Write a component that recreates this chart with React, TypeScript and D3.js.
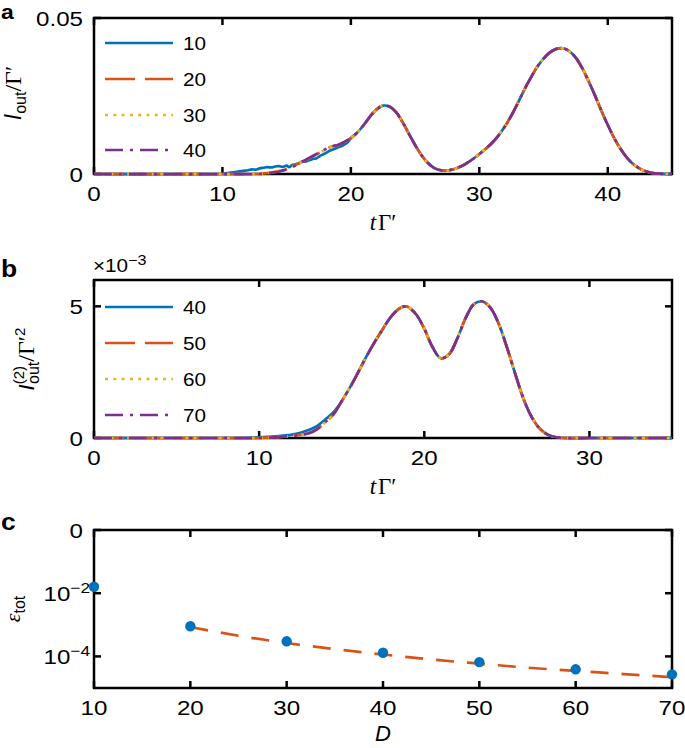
import React from 'react';
import * as d3 from 'd3';

const W = 685;
const H = 748;
const SX = 1.15;
const SANS = '"Liberation Sans", Arial, Helvetica, sans-serif';
const SERIF = '"Liberation Serif", "Times New Roman", serif';
const COLORS = ['#0072BD', '#D95319', '#EDB120', '#7E2F8E'];
const DASHES = ['none', '30 10', '3 5.3', '18 7 3 7'];

// ---------- Panel a data ----------
const aLabels = ['10', '20', '30', '40'];
const aLate: [number, number][] = [
  [19, 0.0093], [19.5, 0.0103], [20, 0.0115], [20.5, 0.0133], [21, 0.0157], [21.5, 0.0185],
  [22, 0.0207], [22.5, 0.0219], [23, 0.0216], [23.5, 0.0199], [24, 0.0168], [24.5, 0.013],
  [25, 0.0093], [25.5, 0.006], [26, 0.0035], [26.5, 0.0019], [27, 0.0012], [27.5, 0.0011],
  [28, 0.0015], [28.5, 0.0023], [29, 0.0034], [29.5, 0.0048], [30, 0.0064], [30.5, 0.0081],
  [31, 0.01], [31.5, 0.0124], [32, 0.0153], [32.5, 0.0188], [33, 0.0228], [33.5, 0.027],
  [34, 0.0308], [34.5, 0.0343], [35, 0.037], [35.5, 0.039], [36, 0.0401], [36.5, 0.0403],
  [37, 0.0394], [37.5, 0.0373], [38, 0.034], [38.5, 0.0298], [39, 0.0252], [39.5, 0.0203],
  [40, 0.0157], [40.5, 0.0115], [41, 0.008], [41.5, 0.0052], [42, 0.0031], [42.5, 0.0017],
  [43, 0.0008], [43.5, 0.0003], [44, 0.0001], [44.5, 0], [45, 0],
];
const aEarly10: [number, number][] = [
  [0, 0], [9.6, 0], [10, 0.0001], [10.4, 0.0003], [10.8, 0.0005], [11.2, 0.0008], [11.6, 0.001],
  [12, 0.0012], [12.3, 0.0015], [12.6, 0.0014], [12.9, 0.0018], [13.2, 0.002], [13.5, 0.0022],
  [13.8, 0.0021], [14.1, 0.0024], [14.4, 0.0025], [14.7, 0.0023], [15, 0.0027], [15.2, 0.0022],
  [15.4, 0.0028], [15.7, 0.0031], [16, 0.0035], [16.2, 0.004], [16.5, 0.004], [16.8, 0.0045],
  [17.1, 0.0049], [17.3, 0.005], [17.6, 0.0058], [17.9, 0.0064], [18.2, 0.0071], [18.4, 0.0075],
  [18.7, 0.008], [19, 0.0086], [19.3, 0.009], [19.6, 0.0097], [19.8, 0.0104],
];
const aEarly20: [number, number][] = [
  [0, 0], [12.5, 0], [13, 0.0001], [13.5, 0.0003], [14, 0.0006], [14.5, 0.001], [15, 0.0016],
  [15.5, 0.0025], [16, 0.0035], [16.5, 0.0045], [17, 0.0056], [17.5, 0.0067], [18, 0.0078], [18.5, 0.0088],
];
const aEarly30: [number, number][] = [
  [0, 0], [12.7, 0], [13, 0.00008], [13.5, 0.00028], [14, 0.0006], [14.5, 0.001], [15, 0.0016],
  [15.5, 0.0025], [16, 0.0035], [16.5, 0.0045], [17, 0.0056], [17.5, 0.0067], [18, 0.0078], [18.5, 0.0088],
];
const aEarly40: [number, number][] = [
  [0, 0], [12.8, 0], [13.2, 0.0001], [13.6, 0.0003], [14, 0.0005], [14.5, 0.0009], [15, 0.0015],
  [15.5, 0.0024], [16, 0.0035], [16.5, 0.0046], [17, 0.0057], [17.5, 0.0068], [18, 0.0079], [18.5, 0.0089],
];
const aD10 = [...aEarly10, ...aLate.filter((d) => d[0] >= 20)];
const aD20 = [...aEarly20, ...aLate];
const aD30 = [...aEarly30, ...aLate];
const aD40 = [...aEarly40, ...aLate];
const aSeries = [aD10, aD20, aD30, aD40];
const aXTicks = [0, 10, 20, 30, 40];
const aYTicks = [0, 0.05];
const aYTickLabels = ['0', '0.05'];

// ---------- Panel b data ----------
const bLabels = ['40', '50', '60', '70'];
const bLate: [number, number][] = [
  [15, 0.0014], [15.5, 0.00192], [16, 0.0025], [16.5, 0.0031], [17, 0.00365], [17.5, 0.00415],
  [18, 0.00462], [18.5, 0.00492], [18.8, 0.005], [19, 0.00498], [19.5, 0.0047], [20, 0.00415],
  [20.5, 0.00345], [21, 0.00303], [21.5, 0.00318], [22, 0.00378], [22.5, 0.00455], [23, 0.00508],
  [23.5, 0.00519], [24, 0.00495], [24.5, 0.00435], [25, 0.00345], [25.5, 0.00245], [26, 0.0015],
  [26.5, 0.0008], [27, 0.00035], [27.5, 0.00012], [28, 0.00003], [28.5, 0], [30, 0], [35, 0],
];
const bEarly40: [number, number][] = [
  [0, 0], [8, 0], [9, 0], [10, 0.00002], [11, 0.00006], [12, 0.00013], [12.5, 0.0002], [13, 0.0003],
  [13.5, 0.00045], [14, 0.0007], [14.5, 0.00098],
];
const bEarlyRest: [number, number][] = [
  [0, 0], [9, 0], [10, 0], [11, 0.00003], [12, 0.00008], [12.5, 0.00012], [13, 0.00018], [13.5, 0.00033],
  [14, 0.0006], [14.5, 0.0009],
];
const bD40 = [...bEarly40, ...bLate];
const bD50 = [...bEarlyRest, ...bLate];
const bD60 = [...bEarlyRest, ...bLate];
const bD70 = [...bEarlyRest, ...bLate];
const bSeries = [bD40, bD50, bD60, bD70];
const bXTicks = [0, 10, 20, 30];
const bYTicks = [0, 0.005];
const bYTickLabels = ['0', '5'];

// ---------- Panel c data ----------
const cD = [10, 20, 30, 40, 50, 60, 70];
const cEps = [1.6e-2, 9e-4, 3.0e-4, 1.3e-4, 6.6e-5, 3.9e-5, 2.7e-5];
const cFitD = [20, 25, 30, 35, 40, 45, 50, 55, 60, 65, 70];
const cFitEps = [8.5e-4, 4.5e-4, 2.65e-4, 1.7e-4, 1.15e-4, 8.0e-5, 5.9e-5, 4.4e-5, 3.5e-5, 2.75e-5, 2.2e-5];
const cXTicks = [10, 20, 30, 40, 50, 60, 70];
const cYTicks = [1, 1e-2, 1e-4];
const cYTickBase = ['0', '10', '10'];
const cYTickExp = ['', '\u22122', '\u22124'];

// ---------- layout ----------
const L = 94;
const R = 672;
const TICK = 7;
const FS = 21;

function ST({ x, y, anchor = 'middle', size = FS, children, weight = 'normal' }: any) {
  return (
    <g transform={`translate(${x},${y}) scale(${SX},1)`}>
      <text textAnchor={anchor} fontSize={size} fontFamily={SANS} fontWeight={weight} fill="#000">
        {children}
      </text>
    </g>
  );
}

function Frame({ x, y, top, bottom, xTicks, yTicks }: any) {
  return (
    <g>
      <rect x={L} y={top} width={R - L} height={bottom - top} fill="none" stroke="#000" strokeWidth={2.5} />
      {xTicks.map((t: number, i: number) => (
        <g key={'x' + i}>
          <line x1={x(t)} x2={x(t)} y1={bottom} y2={bottom - TICK} stroke="#000" strokeWidth={2.5} />
          <line x1={x(t)} x2={x(t)} y1={top} y2={top + TICK} stroke="#000" strokeWidth={2.5} />
        </g>
      ))}
      {yTicks.map((t: number, i: number) => (
        <g key={'y' + i}>
          <line x1={L} x2={L + TICK} y1={y(t)} y2={y(t)} stroke="#000" strokeWidth={2.5} />
          <line x1={R} x2={R - TICK} y1={y(t)} y2={y(t)} stroke="#000" strokeWidth={2.5} />
        </g>
      ))}
    </g>
  );
}

function Curves({ x, y, series }: any) {
  const line = d3
    .line<[number, number]>()
    .x((d) => x(d[0]))
    .y((d) => y(Math.max(0, d[1])))
    .curve(d3.curveCatmullRom.alpha(0.5));
  return (
    <g>
      {series.map((s: [number, number][], i: number) => (
        <path
          key={i}
          d={line(s) || ''}
          fill="none"
          stroke={COLORS[i]}
          strokeWidth={2.7}
          strokeDasharray={DASHES[i]}
        />
      ))}
    </g>
  );
}

function Legend({ labels, rows }: any) {
  return (
    <g>
      {labels.map((lab: string, i: number) => (
        <g key={i}>
          <line x1={105} x2={173} y1={rows[i]} y2={rows[i]} stroke={COLORS[i]} strokeWidth={2.7} strokeDasharray={DASHES[i]} />
          <ST x={183} y={rows[i] + 6.5} anchor="start" size={18}>
            {lab}
          </ST>
        </g>
      ))}
    </g>
  );
}

export default function App() {
  // panel a
  const aTop = 18, aBot = 174;
  const xA = d3.scaleLinear().domain([0, 45]).range([L, R]);
  const yA = d3.scaleLinear().domain([0, 0.05]).range([aBot, aTop]);
  // panel b
  const bTop = 280, bBot = 438;
  const xB = d3.scaleLinear().domain([0, 35]).range([L, R]);
  const yB = d3.scaleLinear().domain([0, 0.006]).range([bBot, bTop]);
  // panel c
  const cTop = 530, cBot = 688;
  const xC = d3.scaleLinear().domain([10, 70]).range([L, R]);
  const yC = d3.scaleLog().domain([1e-5, 1]).range([cBot, cTop]);

  const fitLine = d3
    .line<number>()
    .x((_, i) => xC(cFitD[i]))
    .y((d) => yC(d))
    .curve(d3.curveMonotoneX);

  return (
    <svg width={W} height={H} viewBox={`0 0 ${W} ${H}`} style={{ position: 'absolute', left: 0, top: 0, background: '#fff' }}>
      <rect x={0} y={0} width={W} height={H} fill="#fff" />

      {/* ---------- Panel a ---------- */}
      <ST x={1} y={19} anchor="start" size={20} weight="bold">a</ST>
      <Frame x={xA} y={yA} top={aTop} bottom={aBot} xTicks={aXTicks} yTicks={aYTicks} />
      <Curves x={xA} y={yA} series={aSeries} />
      <Legend labels={aLabels} rows={[43, 79, 115, 150]} />
      {aXTicks.map((t, i) => (
        <ST key={i} x={xA(t)} y={aBot + 27}>{String(t)}</ST>
      ))}
      {aYTicks.map((t, i) => (
        <ST key={i} x={83} y={yA(t) + 7.5} anchor="end">{aYTickLabels[i]}</ST>
      ))}
      <text transform={`translate(21,${(aTop + aBot) / 2 - 3}) rotate(-90)`} textAnchor="middle" fontSize={23} fontFamily={SANS}>
        <tspan fontStyle="italic">I</tspan>
        <tspan dy={5} fontSize={16}>out</tspan>
        <tspan dy={-5} fontFamily={SERIF} fontSize={24}>/Γ′</tspan>
      </text>
      <text x={(L + R) / 2} y={aBot + 56} textAnchor="middle" fontSize={23} fontFamily={SERIF}>
        <tspan fontStyle="italic">t</tspan>
        <tspan dx={2}>Γ′</tspan>
      </text>

      {/* ---------- Panel b ---------- */}
      <ST x={1} y={277} anchor="start" size={23} weight="bold">b</ST>
      <Frame x={xB} y={yB} top={bTop} bottom={bBot} xTicks={bXTicks} yTicks={bYTicks} />
      <Curves x={xB} y={yB} series={bSeries} />
      <Legend labels={bLabels} rows={[307, 343, 379, 415]} />
      {bXTicks.map((t, i) => (
        <ST key={i} x={xB(t)} y={bBot + 27}>{String(t)}</ST>
      ))}
      {bYTicks.map((t, i) => (
        <ST key={i} x={83} y={yB(t) + 7.5} anchor="end">{bYTickLabels[i]}</ST>
      ))}
      <ST x={93} y={272} anchor="start" size={18}>
        <tspan>×10</tspan>
        <tspan dy={-7} fontSize={14}>−3</tspan>
      </ST>
      <text transform={`translate(34,${(bTop + bBot) / 2}) rotate(-90)`} textAnchor="middle" fontSize={22} fontFamily={SANS}>
        <tspan fontStyle="italic">I</tspan>
        <tspan dy={-10} fontSize={15}>(2)</tspan>
        <tspan dx={-18} dy={15} fontSize={16}>out</tspan>
        <tspan dy={-5} fontFamily={SERIF} fontSize={24}>/Γ′</tspan>
        <tspan dy={-9} fontSize={15}>2</tspan>
      </text>
      <text x={(L + R) / 2} y={bBot + 56} textAnchor="middle" fontSize={23} fontFamily={SERIF}>
        <tspan fontStyle="italic">t</tspan>
        <tspan dx={2}>Γ′</tspan>
      </text>

      {/* ---------- Panel c ---------- */}
      <ST x={1} y={530} anchor="start" size={23} weight="bold">c</ST>
      <Frame x={xC} y={yC} top={cTop} bottom={cBot} xTicks={cXTicks} yTicks={cYTicks} />
      <path d={fitLine(cFitEps) || ''} fill="none" stroke={COLORS[1]} strokeWidth={2.7} strokeDasharray="18 13" />
      {cD.map((d, i) => (
        <circle key={i} cx={xC(d)} cy={yC(cEps[i])} r={5.2} fill={COLORS[0]} />
      ))}
      {cXTicks.map((t, i) => (
        <ST key={i} x={xC(t)} y={cBot + 27}>{String(t)}</ST>
      ))}
      {cYTicks.map((t, i) => (
        <ST key={i} x={cYTickExp[i] ? 90 : 83} y={yC(t) + 7.5} anchor="end">
          <tspan>{cYTickBase[i]}</tspan>
          {cYTickExp[i] ? (
            <tspan dy={-8} fontSize={15}>{cYTickExp[i]}</tspan>
          ) : null}
        </ST>
      ))}
      <text transform={`translate(20,${(cTop + cBot) / 2}) rotate(-90)`} textAnchor="middle" fontSize={21} fontFamily={SANS}>
        <tspan fontFamily={SERIF} fontStyle="italic" fontSize={22}>ε</tspan>
        <tspan dy={5} fontSize={16}>tot</tspan>
      </text>
      <text x={(L + R) / 2} y={cBot + 53} textAnchor="middle" fontSize={22} fontFamily={SANS} fontStyle="italic">
        D
      </text>
    </svg>
  );
}
